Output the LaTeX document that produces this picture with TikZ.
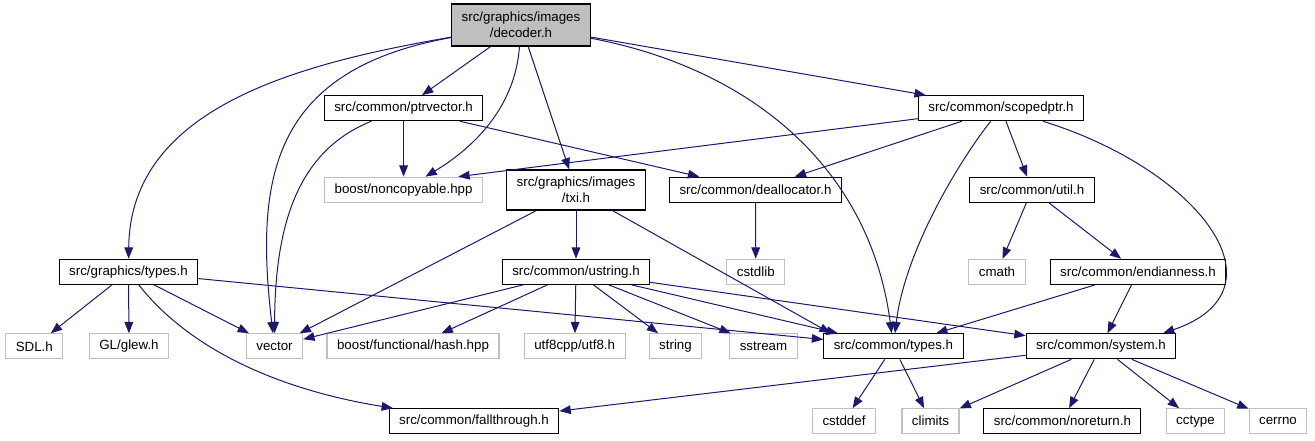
\documentclass[tikz,border=0pt]{standalone}
\usepackage{fontspec}
\setmainfont{Liberation Sans}
\usetikzlibrary{arrows.meta}
\definecolor{edgeblue}{HTML}{191970}
\definecolor{extgray}{HTML}{BFBFBF}
\tikzset{
	hdr/.style={draw=black, fill=white, line width=0.8pt, inner xsep=7.5pt, inner ysep=0pt,
		minimum height=18.75pt, align=center, font=\fontsize{10}{11.7}\selectfont},
	ext/.style={hdr, draw=extgray},
	dep/.style={draw=edgeblue, line width=0.75pt, -{Triangle[length=8.5pt,width=6.5pt]}}
}
\begin{document}
\begin{tikzpicture}[x=0.75pt, y=-0.75pt]
		\useasboundingbox (0,0) rectangle (1315,440);

		% headers
		\node[hdr, fill=extgray, minimum height=31.5pt] (decoder) at (521,25) {src/graphics/images\\/decoder.h};
		\node[hdr] (ptrvector) at (403.6,108.2) {src/common/ptrvector.h};
		\node[hdr] (scopedptr) at (1001,108.2) {src/common/scopedptr.h};
		\node[ext] (noncopyable) at (403.6,189.7) {boost/noncopyable.hpp};
		\node[hdr, minimum height=30pt] (txi) at (576,190) {src/graphics/images\\/txi.h};
		\node[hdr] (deallocator) at (755.5,189.7) {src/common/deallocator.h};
		\node[hdr] (util) at (1032,189.7) {src/common/util.h};
		\node[hdr] (gtypes) at (128.5,271.8) {src/graphics/types.h};
		\node[hdr] (ustring) at (576,271.8) {src/common/ustring.h};
		\node[ext] (cstdlib) at (755.8,271.8) {cstdlib};
		\node[ext] (cmath) at (997,271.8) {cmath};
		\node[hdr] (endianness) at (1138,271.8) {src/common/endianness.h};
		\node[ext] (SDL) at (34.3,346.3) {SDL.h};
		\node[ext] (glew) at (129,346.3) {GL/glew.h};
		\node[ext] (vector) at (274.5,346.3) {vector};
		\node[ext] (hash) at (413,346.3) {boost/functional/hash.hpp};
		\node[ext] (utf8) at (574.7,346.3) {utf8cpp/utf8.h};
		\node[ext] (string) at (675.5,346.3) {string};
		\node[ext] (sstream) at (763.5,346.3) {sstream};
		\node[hdr] (ctypes) at (893.4,346.3) {src/common/types.h};
		\node[hdr] (system) at (1101,346.3) {src/common/system.h};
		\node[hdr] (fallthrough) at (474,421.2) {src/common/fallthrough.h};
		\node[ext] (cstddef) at (844,421.2) {cstddef};
		\node[ext] (climits) at (930.5,421.2) {climits};
		\node[hdr] (noreturn) at (1062.4,421.2) {src/common/noreturn.h};
		\node[ext] (cctype) at (1195.5,421.2) {cctype};
		\node[ext] (cerrno) at (1278,421.2) {cerrno};

		% includes
		\draw[dep] (decoder) .. controls (302,63) and (130,106) .. (gtypes);
		\draw[dep] (decoder) .. controls (270,70) and (255,180) .. (vector);
		\draw[dep] (decoder) -- (ptrvector);
		\draw[dep] (decoder) .. controls (515,110) and (470,150) .. (noncopyable);
		\draw[dep] (decoder) -- (txi);
		\draw[dep] (decoder) -- (scopedptr);
		\draw[dep] (decoder) .. controls (753,69) and (870,169) .. (ctypes);

		\draw[dep] (ptrvector) -- (noncopyable);
		\draw[dep] (ptrvector) .. controls (300,150) and (275,220) .. (vector);
		\draw[dep] (ptrvector) -- (deallocator);

		\draw[dep] (scopedptr) -- ([xshift=41pt]noncopyable.north);
		\draw[dep] (scopedptr) -- (deallocator);
		\draw[dep] (scopedptr) -- (util);
		\draw[dep] (scopedptr) .. controls (960,160) and (905,250) .. (ctypes);
		\draw[dep] (scopedptr) .. controls (1200,170) and (1290,290) .. ([xshift=-10pt]system.north east);

		\draw[dep] (txi) -- (vector);
		\draw[dep] (txi) -- (ustring);
		\draw[dep] (txi) -- ([xshift=-47pt]ctypes.north);

		\draw[dep] (deallocator) -- (cstdlib);
		\draw[dep] (util) -- (cmath);
		\draw[dep] (util) -- (endianness);

		\draw[dep] (gtypes) -- (SDL);
		\draw[dep] (gtypes) -- (glew);
		\draw[dep] (gtypes) -- (vector);
		\draw[dep] (gtypes) .. controls (190,350) and (280,390) .. (fallthrough);
		\draw[dep] (gtypes) -- (ctypes);

		\draw[dep] (ustring) -- (vector);
		\draw[dep] (ustring) -- (hash);
		\draw[dep] (ustring) -- (utf8);
		\draw[dep] (ustring) -- (string);
		\draw[dep] (ustring) -- (sstream);
		\draw[dep] (ustring) -- (ctypes);
		\draw[dep] (ustring) -- (system);

		\draw[dep] (endianness) -- (ctypes);
		\draw[dep] (endianness) -- (system);

		\draw[dep] (ctypes) -- (cstddef);
		\draw[dep] (ctypes) -- (climits);

		\draw[dep] (system) -- (fallthrough);
		\draw[dep] (system) -- (climits);
		\draw[dep] (system) -- (noreturn);
		\draw[dep] (system) -- (cctype);
		\draw[dep] (system) -- (cerrno);
	\end{tikzpicture}
\end{document}
